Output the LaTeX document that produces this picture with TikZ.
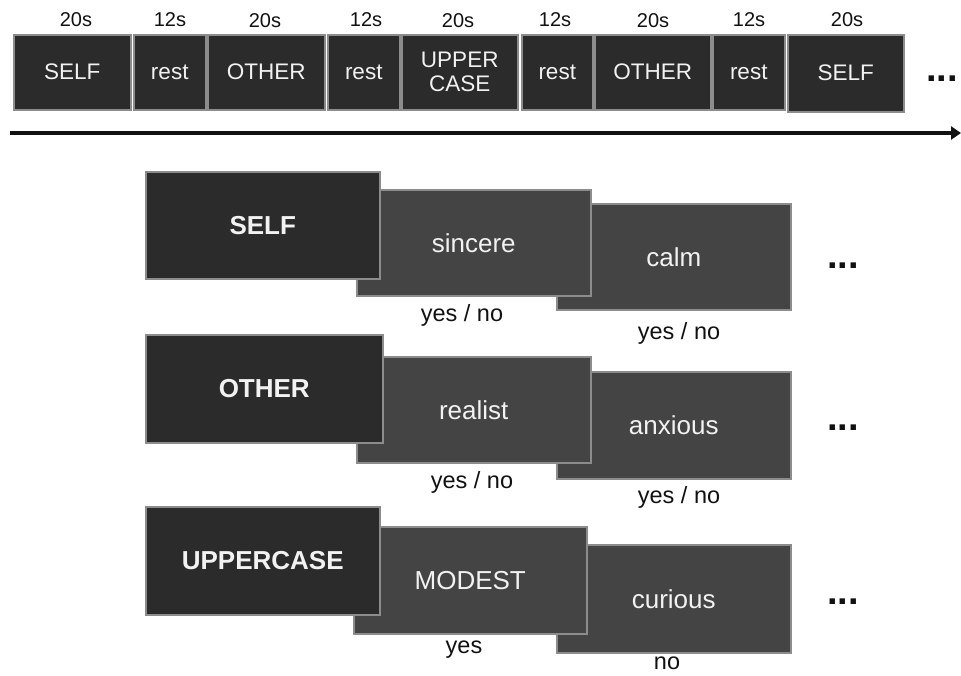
\documentclass[tikz,border=0pt]{standalone}
\usepackage{fontspec}
\setmainfont{Liberation Sans}
\usetikzlibrary{arrows.meta}
\definecolor{boxdark}{HTML}{2B2B2B}
\definecolor{boxmid}{HTML}{444444}
\definecolor{edgegray}{HTML}{8C8C8C}
\definecolor{txtlight}{HTML}{F2F2F2}
\definecolor{ink}{HTML}{111111}
\begin{document}
\begin{tikzpicture}[x=1pt,y=-1pt,
  seqbox/.style={draw=edgegray, line width=1.5pt, fill=boxdark, text=txtlight,
    font=\fontsize{22.5}{26}\selectfont, align=center, inner sep=0pt,
    anchor=north west, minimum height=75pt},
  durlabel/.style={font=\fontsize{20}{24}\selectfont, text=ink, inner sep=0pt},
  condbox/.style={draw=edgegray, line width=1.5pt, fill=boxdark, text=txtlight,
    font=\fontsize{26}{30}\selectfont\bfseries, inner sep=0pt,
    anchor=north west, minimum width=234pt, minimum height=107pt},
  wordbox/.style={draw=edgegray, line width=1.5pt, fill=boxmid, text=txtlight,
    font=\fontsize{26}{30}\selectfont, inner sep=0pt,
    anchor=north west, minimum width=234pt, minimum height=106pt},
  answer/.style={font=\fontsize{23.5}{27}\selectfont, text=ink, inner sep=0pt},
  moredots/.style={font=\fontsize{38}{40}\selectfont\bfseries, text=ink, inner sep=0pt}
]
\useasboundingbox (0,0) rectangle (961,675);

% ---- block sequence ----
\node[seqbox, minimum width=117pt] (s1) at (13,34) {SELF};
\node[seqbox, minimum width=72pt]  (r1) at (133,34) {rest};
\node[seqbox, minimum width=117pt] (o1) at (207,34) {OTHER};
\node[seqbox, minimum width=72pt]  (r2) at (327,34) {rest};
\node[seqbox, minimum width=116pt] (u1) at (401,34) {UPPER\\[-2pt]CASE};
\node[seqbox, minimum width=71pt]  (r3) at (521,34) {rest};
\node[seqbox, minimum width=116pt] (o2) at (594,34) {OTHER};
\node[seqbox, minimum width=72pt]  (r4) at (712,34) {rest};
\node[seqbox, minimum width=116pt, minimum height=77pt] (s2) at (787,34) {SELF};
\node[moredots] (tdots) at (942,79) {...};

\node[durlabel] (d1) at (76,20) {20s};
\node[durlabel] (d2) at (170,20) {12s};
\node[durlabel] (d3) at (265,21) {20s};
\node[durlabel] (d4) at (366,20) {12s};
\node[durlabel] (d5) at (458,21) {20s};
\node[durlabel] (d6) at (555,20) {12s};
\node[durlabel] (d7) at (653,21) {20s};
\node[durlabel] (d8) at (749,20) {12s};
\node[durlabel] (d9) at (847,20) {20s};

% ---- time axis ----
\coordinate (tstart) at (10,133);
\coordinate (tend) at (961,133);
\draw[line width=4pt, draw=ink, -{Triangle[length=10pt,width=13pt]}] (tstart) -- (tend);

% ---- SELF trials ----
\node[wordbox] (calm) at (556,203) {calm};
\node[wordbox] (sincere) at (356,189) {sincere};
\node[condbox] (cself) at (145,171) {SELF};
\node[answer] (a1) at (462,315) {yes / no};
\node[answer] (a2) at (679,333) {yes / no};
\node[moredots] (dots1) at (843,266) {...};

% ---- OTHER trials ----
\node[wordbox, minimum height=107pt] (anxious) at (556,371) {anxious};
\node[wordbox] (realist) at (356,356) {realist};
\node[condbox, minimum width=237pt, minimum height=108pt] (cother) at (145,334) {OTHER};
\node[answer] (a3) at (472,482) {yes / no};
\node[answer] (a4) at (679,497) {yes / no};
\node[moredots] (dots2) at (843,428) {...};

% ---- UPPERCASE trials ----
\node[wordbox, minimum height=108pt] (curious) at (556,544) {curious};
\node[wordbox, minimum width=233pt, minimum height=107pt] (modest) at (353,526) {MODEST};
\node[condbox, minimum height=108pt] (cupper) at (145,506) {UPPERCASE};
\node[answer] (a5) at (464,650) {yes};
\node[answer] (a6) at (667,663) {no};
\node[moredots] (dots3) at (843,602) {...};
\end{tikzpicture}
\end{document}
